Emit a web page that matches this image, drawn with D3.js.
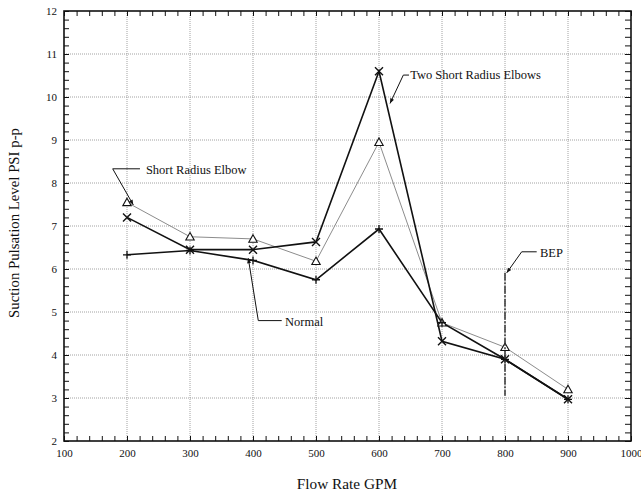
<!DOCTYPE html>
<html>
<head>
<meta charset="utf-8">
<script src="https://cdn.jsdelivr.net/npm/d3@7"></script>
<style>
  body { margin: 0; background: #fff; }
  svg text { font-family: "Liberation Serif", "DejaVu Serif", serif !important; fill: #111; }
</style>
</head>
<body>
<div id="chart-area"></div>
<script>
// DATA
var flow = [200, 300, 400, 500, 600, 700, 800, 900];
var normal = [6.33, 6.43, 6.2, 5.75, 6.93, 4.75, 3.9, 2.97];
var twoElbows = [7.2, 6.45, 6.45, 6.63, 10.6, 4.32, 3.9, 2.97];
var shortElbow = [7.55, 6.75, 6.7, 6.18, 8.95, 4.75, 4.18, 3.2];
var xTicks = [100, 200, 300, 400, 500, 600, 700, 800, 900, 1000];
var yTicks = [2, 3, 4, 5, 6, 7, 8, 9, 10, 11, 12];

// annotations in data units: text anchor, then leader points (last one gets the arrow)
var notes = [
    { label: "Short Radius Elbow", tx: 230, ty: 8.3, pts: [[220.6, 8.33], [177.3, 8.33], [210, 7.49]] },
    { label: "Two Short Radius Elbows", tx: 649.5, ty: 10.51, pts: [[647.6, 10.51], [638.6, 10.51], [617.5, 9.85]] },
    { label: "Normal", tx: 450.8, ty: 4.77, pts: [[445.6, 4.8], [408.4, 4.8], [392.5, 6.25]] },
    { label: "BEP", tx: 855.6, ty: 6.37, pts: [[850.3, 6.4], [826.5, 6.4], [802.7, 5.91]] }
];
var bep = { x: 800, y0: 5.91, y1: 3.05 };

//Margin
var margin = { top: 11, right: 10, bottom: 56, left: 64 };
var width = 567;
var height = 430;

var svg = d3.select("#chart-area")
    .append("svg")
    .attr("width", 641)
    .attr("height", 497)
    .attr("font-family", "'Liberation Serif', serif");

var g = svg.append("g")
    .attr("transform", "translate(" + margin.left + ", " + margin.top + ")");

// SCALES
var x = d3.scaleLinear().domain([100, 1000]).range([0, width]);
var y = d3.scaleLinear().domain([2, 12]).range([height, 0]);

// GRID
g.append("g").selectAll("line").data(xTicks.slice(1, -1)).enter()
    .append("line")
    .attr("x1", (d) => x(d)).attr("x2", (d) => x(d))
    .attr("y1", 0).attr("y2", height)
    .attr("stroke", "#8a8a8a").attr("stroke-width", 0.8)
    .attr("stroke-dasharray", "1,1");

g.append("g").selectAll("line").data(yTicks.slice(1, -1)).enter()
    .append("line")
    .attr("y1", (d) => y(d)).attr("y2", (d) => y(d))
    .attr("x1", 0).attr("x2", width)
    .attr("stroke", "#8a8a8a").attr("stroke-width", 0.8)
    .attr("stroke-dasharray", "1,1");

//AXIS
var xMinor = d3.range(100, 1001, 20);
var yMinor = d3.range(2, 12.001, 0.2).map((d) => +d.toFixed(1));

var bottomAxis = d3.axisBottom(x).tickValues(xMinor).tickSize(-5).tickPadding(8)
    .tickFormat((d) => d % 100 === 0 ? d : "");
var topAxis = d3.axisTop(x).tickValues(xMinor).tickSize(-5).tickFormat("");
var leftAxis = d3.axisLeft(y).tickValues(yMinor).tickSize(-5).tickPadding(7)
    .tickFormat((d) => Math.abs(d - Math.round(d)) < 1e-6 ? d : "");
var rightAxis = d3.axisRight(y).tickValues(yMinor).tickSize(-6).tickFormat("");

function styleAxis(sel) {
    sel.attr("font-family", "'Liberation Serif', serif").attr("font-size", 11);
    sel.select(".domain").remove();
    sel.selectAll(".tick line").attr("stroke", "#111").attr("stroke-width", 1);
    sel.selectAll(".tick text").attr("fill", "#111");
}

g.append("g").attr("transform", "translate(0, " + height + ")").call(bottomAxis).call(styleAxis);
g.append("g").call(topAxis).call(styleAxis);
g.append("g").call(leftAxis).call(styleAxis);
g.append("g").attr("transform", "translate(" + width + ", 0)").call(rightAxis).call(styleAxis);

// frame
g.append("rect")
    .attr("width", width).attr("height", height)
    .attr("fill", "none").attr("stroke", "#111").attr("stroke-width", 1.6);

//---TITLE LABELS
svg.append("text")
    .attr("x", 347).attr("y", 489)
    .attr("font-size", "15.3px")
    .attr("text-anchor", "middle")
    .text("Flow Rate GPM");

svg.append("text")
    .attr("transform", "translate(19, 223) rotate(-90)")
    .attr("font-size", "14.8px")
    .attr("text-anchor", "middle")
    .text("Suction Pulsation Level PSI p-p");

// LINES
var line = d3.line().x((d) => x(d[0])).y((d) => y(d[1]));
function pairs(vals) { return flow.map((f, i) => [f, vals[i]]); }

g.append("path").datum(pairs(shortElbow)).attr("d", line)
    .attr("fill", "none").attr("stroke", "#8c8c8c").attr("stroke-width", 1);
g.append("path").datum(pairs(normal)).attr("d", line)
    .attr("fill", "none").attr("stroke", "#111").attr("stroke-width", 1.6);
g.append("path").datum(pairs(twoElbows)).attr("d", line)
    .attr("fill", "none").attr("stroke", "#111").attr("stroke-width", 1.6);

// MARKERS
g.append("g").selectAll("path").data(pairs(shortElbow)).enter()
    .append("path")
    .attr("transform", (d) => "translate(" + x(d[0]) + "," + y(d[1]) + ")")
    .attr("d", "M0,-4.2L4.2,3.3L-4.2,3.3Z")
    .attr("fill", "#fff").attr("stroke", "#111").attr("stroke-width", 1.1);

g.append("g").selectAll("path").data(pairs(normal)).enter()
    .append("path")
    .attr("transform", (d) => "translate(" + x(d[0]) + "," + y(d[1]) + ")")
    .attr("d", "M-4,0H4M0,-4V4")
    .attr("stroke", "#111").attr("stroke-width", 1.3);

g.append("g").selectAll("path").data(pairs(twoElbows)).enter()
    .append("path")
    .attr("transform", (d) => "translate(" + x(d[0]) + "," + y(d[1]) + ")")
    .attr("d", "M-4,-4L4,4M-4,4L4,-4")
    .attr("stroke", "#111").attr("stroke-width", 1.4);

// BEP line
g.append("line")
    .attr("x1", x(bep.x)).attr("x2", x(bep.x))
    .attr("y1", y(bep.y0)).attr("y2", y(bep.y1))
    .attr("stroke", "#333").attr("stroke-width", 1.5)
    .attr("stroke-dasharray", "8,1.5,2,1.5");

// ANNOTATIONS
svg.append("defs").append("marker")
    .attr("id", "arrow")
    .attr("viewBox", "0 0 10 10")
    .attr("refX", 10).attr("refY", 5)
    .attr("markerWidth", 7).attr("markerHeight", 5)
    .attr("markerUnits", "userSpaceOnUse")
    .attr("orient", "auto")
    .append("path").attr("d", "M0,1L10,5L0,9Z").attr("fill", "#111");

var leader = d3.line().x((d) => x(d[0])).y((d) => y(d[1]));
notes.forEach((n) => {
    g.append("path").attr("d", leader(n.pts))
        .attr("fill", "none").attr("stroke", "#111").attr("stroke-width", 1)
        .attr("marker-end", "url(#arrow)");
    g.append("text")
        .attr("x", x(n.tx)).attr("y", y(n.ty))
        .attr("dy", "0.35em")
        .attr("font-size", "12.5px")
        .text(n.label);
});
</script>
</body>
</html>
